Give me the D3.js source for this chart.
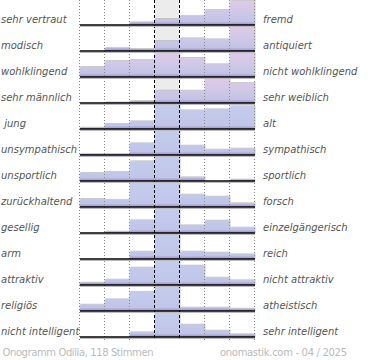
<!DOCTYPE html>
<html><head><meta charset="utf-8">
<script src="https://cdn.jsdelivr.net/npm/d3@7"></script>
<style>body{margin:0;background:#fff}svg{display:block}</style>
</head><body>
<svg id="c" width="370" height="360"></svg>
<script>
const leftLabels = ["sehr vertraut","modisch","wohlklingend","sehr männlich"," jung","unsympathisch","unsportlich","zurückhaltend","gesellig","arm","attraktiv","religiös","nicht intelligent"];
const rightLabels = ["fremd","antiquiert","nicht wohlklingend","sehr weiblich","alt","sympathisch","sportlich","forsch","einzelgängerisch","reich","nicht attraktiv","atheistisch","sehr intelligent"];
const values = [
  [0,0,2.7,6,9,15,24],
  [0,3,2,10,12.7,11.7,24],
  [10,16,17,24,19,12.7,24],
  [0,0.5,2,12.3,12.3,24,20],
  [1.3,5,7.7,24,18.7,19.7,22.7],
  [1,1,11.7,24,9.3,5.3,6.3],
  [8,9,19.7,24,3.7,0,1.3],
  [8,7,24,24,12.3,10.3,3.7],
  [0,1.3,12.7,24,7.7,12.3,5.3],
  [0,0,7.3,24,7.3,6.3,4.7],
  [2.3,5.3,17.3,24,19.3,7.3,4.7],
  [6.3,11.7,19,24,3.3,3.3,2.3],
  [0,0,4.7,24,12.3,6.3,2.7]
];
const pinkRows = [0,1,2,3];
const footerLeft = "Onogramm Odilia, 118 Stimmen";
const footerRight = "onomastik.com - 04 / 2025";

const svg = d3.select("#c");
const cols = d3.range(7);
const x = d3.scaleBand().domain(cols).range([79.5,254.5]).padding(0);
const y = d3.scalePoint().domain(d3.range(leftLabels.length)).range([25,337]);
const rowH = 24;

const defs = svg.append("defs");
leftLabels.forEach((l,i)=>{
  const b = y(i);
  const g = defs.append("linearGradient").attr("id","g"+i)
    .attr("gradientUnits","userSpaceOnUse").attr("x1",0).attr("x2",0)
    .attr("y1",b-rowH).attr("y2",b);
  const stops = pinkRows.includes(i)
    ? [[0,"#e0c9e7"],[0.45,"#d0c8e7"],[0.85,"#c3c3e5"],[1,"#9a8ccb"]]
    : [[0,"#c3ccec"],[0.85,"#c1c6e9"],[1,"#9a8ccb"]];
  stops.forEach(s=>g.append("stop").attr("offset",s[0]).attr("stop-color",s[1]));
});

// center column background
svg.append("rect").attr("x",x(3)).attr("y",0).attr("width",x.bandwidth()).attr("height",y(leftLabels.length-1)).attr("fill","#ececec");

// bars
leftLabels.forEach((l,i)=>{
  const b = y(i);
  const h = d3.scaleLinear().domain([0,d3.max(values[i])]).range([0,rowH]);
  const g = svg.append("g");
  g.selectAll("rect.s").data(values[i]).join("rect")
    .attr("x",(d,j)=>x(j)+1).attr("y",d=>b-h(d)-1)
    .attr("width",x.bandwidth()).attr("height",d=>d>0?h(d)+1:0)
    .attr("fill","#a8a8a8").attr("opacity",0.6);
  g.selectAll("rect.b").data(values[i]).join("rect")
    .attr("x",(d,j)=>x(j)).attr("y",d=>b-h(d))
    .attr("width",x.bandwidth()).attr("height",d=>h(d))
    .attr("fill","url(#g"+i+")");
});

// grid lines
d3.range(8).forEach(k=>{
  const xx = 79.5 + k*x.bandwidth();
  const dashed = (k===3||k===4);
  svg.append("line").attr("x1",xx).attr("x2",xx).attr("y1",0).attr("y2",dashed?y(leftLabels.length-1)+3:340)
    .attr("stroke",dashed?"#000":"#888").attr("stroke-width",1)
    .attr("stroke-dasharray",dashed?"3,2":"1,2");
});

// baselines
leftLabels.forEach((l,i)=>{
  const b = y(i);
  svg.append("line").attr("x1",80).attr("x2",255).attr("y1",b+1.5).attr("y2",b+1.5).attr("stroke","#bbb").attr("stroke-width",1);
  svg.append("line").attr("x1",80).attr("x2",255).attr("y1",b).attr("y2",b).attr("stroke","#000").attr("stroke-width",1.6);
});

// labels
const font = "'DejaVu Sans', sans-serif";
svg.selectAll("text.l").data(leftLabels).join("text")
  .attr("x",1).attr("y",(d,i)=>y(i)-2).text(d=>d)
  .attr("font-family",font).attr("font-size",10).attr("font-style","italic").attr("fill","#555")
  .attr("xml:space","preserve").style("white-space","pre");
svg.selectAll("text.r").data(rightLabels).join("text")
  .attr("x",263).attr("y",(d,i)=>y(i)-2).text(d=>d)
  .attr("font-family",font).attr("font-size",10).attr("font-style","italic").attr("fill","#555");

svg.append("text").attr("x",2.5).attr("y",356).text(footerLeft)
  .attr("font-family",font).attr("font-size",10).attr("fill","#bbb")
  .attr("textLength",151).attr("lengthAdjust","spacing");
svg.append("text").attr("x",220).attr("y",356).text(footerRight)
  .attr("font-family",font).attr("font-size",10).attr("fill","#bbb")
  .attr("textLength",127).attr("lengthAdjust","spacing");
</script>
</body></html>
